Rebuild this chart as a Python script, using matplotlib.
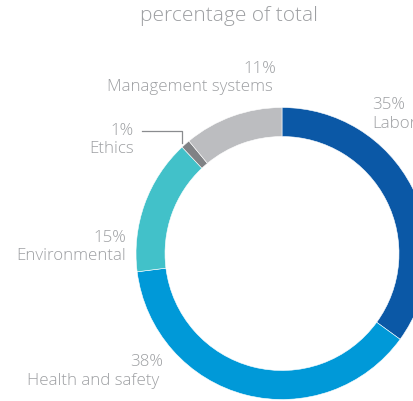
import matplotlib
matplotlib.use("Agg")
import matplotlib.pyplot as plt

categories = ["Labor", "Health and safety", "Environmental", "Ethics", "Management systems"]
values = [35, 38, 15, 1, 11]
pct_labels = ["35%", "38%", "15%", "1%", "11%"]
colors = ["#0b58a6", "#0099d8", "#42c1c9", "#808285", "#bcbdc0"]
title = "percentage of total"

W, H = 413, 401
fig = plt.figure(figsize=(W / 100, H / 100), dpi=100)
ax = fig.add_axes([0, 0, 1, 1])

cx, cy, r = 282, H - 253.5, 146
ax.pie(values, colors=colors, startangle=90, counterclock=False,
       radius=r, center=(cx, cy), frame=True,
       wedgeprops=dict(width=29, edgecolor="white", linewidth=0.4))
ax.set_xlim(0, W)
ax.set_ylim(0, H)
ax.set_aspect("equal")
ax.axis("off")

tc = "#9d9fa2"
font = dict(family=["Open Sans", "DejaVu Sans"], color=tc, fontsize=12.2, fontweight="light")

def Y(y):
    return H - y

ax.text(229, Y(16), title, ha="center", va="center", **{**font, "fontsize": 15})
# Labor
ax.text(372, Y(105), pct_labels[0], ha="left", va="center", **font)
ax.text(372, Y(124), categories[0], ha="left", va="center", **font)
# Health and safety
ax.text(163, Y(362), pct_labels[1], ha="right", va="center", **font)
ax.text(159, Y(381), categories[1], ha="right", va="center", **font)
# Environmental
ax.text(126, Y(238), pct_labels[2], ha="right", va="center", **font)
ax.text(126, Y(256), categories[2], ha="right", va="center", **font)
# Ethics
ax.text(134, Y(131), pct_labels[3], ha="right", va="center", **font)
ax.text(134, Y(149), categories[3], ha="right", va="center", **font)
ax.plot([142, 182, 182], [Y(131), Y(131), Y(143)], color="#8a8c8f", lw=0.9)
# Management systems
ax.text(276, Y(69), pct_labels[4], ha="right", va="center", **font)
ax.text(273, Y(87), categories[4], ha="right", va="center", **font)

fig.savefig("out.png", dpi=100)
